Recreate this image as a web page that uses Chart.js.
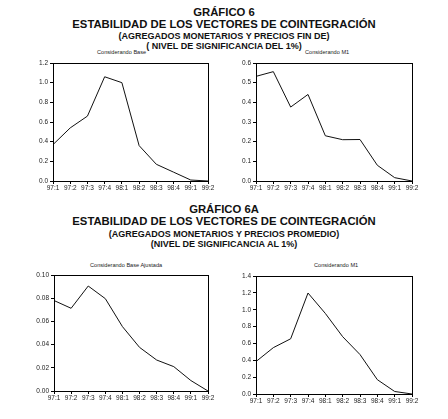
<!DOCTYPE html>
<html>
<head>
<meta charset="utf-8">
<script src="https://cdn.jsdelivr.net/npm/chart.js@4.4.0/dist/chart.umd.min.js"></script>
<style>
  body { margin: 0; background: #fff; width: 448px; height: 419px; overflow: hidden; }
  #page { position: relative; width: 448px; height: 419px; font-family: "Liberation Sans", Arial, sans-serif; color: #111; }
  .t { position: absolute; left: 0; width: 448px; text-align: center; font-weight: bold; white-space: nowrap; line-height: 1; }
  .s { position: absolute; white-space: nowrap; font-size: 5.6px; line-height: 1; color: #222; }
  canvas { position: absolute; }
</style>
</head>
<body>
<div id="page">
  <div class="t" style="top:7px;font-size:11.3px">GRÁFICO 6</div>
  <div class="t" style="top:19px;font-size:11.3px">ESTABILIDAD DE LOS VECTORES DE COINTEGRACIÓN</div>
  <div class="t" style="top:32px;font-size:9px">(AGREGADOS MONETARIOS Y PRECIOS FIN DE)</div>
  <div class="t" style="top:42px;font-size:9px">( NIVEL DE SIGNIFICANCIA DEL 1%)</div>
  <div class="s" style="left:97px;top:50px">Considerando Base</div>
  <div class="s" style="left:305px;top:50px">Considerando M1</div>

  <div class="t" style="top:204px;font-size:11.3px">GRÁFICO 6A</div>
  <div class="t" style="top:216px;font-size:11.3px">ESTABILIDAD DE LOS VECTORES DE COINTEGRACIÓN</div>
  <div class="t" style="top:230px;font-size:9px">(AGREGADOS MONETARIOS Y PRECIOS PROMEDIO)</div>
  <div class="t" style="top:240px;font-size:9px">(NIVEL DE SIGNIFICANCIA AL 1%)</div>
  <div class="s" style="left:90px;top:263px">Considerando Base Ajustada</div>
  <div class="s" style="left:314px;top:263px">Considerando M1</div>

  <canvas id="c1" width="224" height="145" style="left:0;top:50px"></canvas>
  <canvas id="c2" width="224" height="145" style="left:224px;top:50px"></canvas>
  <canvas id="c3" width="224" height="159" style="left:0;top:260px"></canvas>
  <canvas id="c4" width="224" height="159" style="left:224px;top:260px"></canvas>
</div>
<script>
const quarters = ['97:1', '97:2', '97:3', '97:4', '98:1', '98:2', '98:3', '98:4', '99:1', '99:2'];

// Gráfico 6 - precios fin de periodo
const baseFinDe = [0.37, 0.54, 0.66, 1.06, 1.00, 0.36, 0.17, 0.09, 0.01, 0.00];
const m1FinDe = [0.532, 0.556, 0.376, 0.44, 0.23, 0.21, 0.211, 0.08, 0.017, 0.00];

// Gráfico 6A - precios promedio
const baseAjustada = [0.078, 0.0713, 0.0905, 0.0796, 0.0555, 0.0376, 0.0267, 0.021, 0.009, 0.00];
const m1Promedio = [0.385, 0.55, 0.655, 1.198, 0.956, 0.68, 0.468, 0.17, 0.03, 0.00];

// y axis ranges
const yMax = [1.2, 0.6, 0.10, 1.4];
const yStep = [0.2, 0.1, 0.02, 0.2];
const yDecimals = [1, 1, 2, 1];

const tickFont = { family: "'Liberation Sans', Arial, sans-serif", size: 6.5 };

// draws the closed box round the plot area
const boxPlugin = {
    id: 'box',
    afterDraw(chart) {
        const a = chart.chartArea;
        const ctx = chart.ctx;
        ctx.save();
        ctx.strokeStyle = '#000';
        ctx.lineWidth = 1;
        ctx.strokeRect(Math.round(a.left) + 0.5, Math.round(a.top) + 0.5,
            Math.round(a.right - a.left), Math.round(a.bottom - a.top));
        ctx.restore();
    }
};

function makeChart(id, values, idx, pad, yWidth) {
    const ctx = document.getElementById(id).getContext('2d');
    return new Chart(ctx, {
        type: 'line',
        data: {
            labels: quarters,
            datasets: [{
                data: values,
                borderColor: '#111',
                borderWidth: 1,
                pointRadius: 0,
                tension: 0,
                fill: false
            }]
        },
        options: {
            responsive: false,
            animation: false,
            layout: { padding: pad },
            plugins: { legend: { display: false }, tooltip: { enabled: false } },
            scales: {
                x: {
                    offset: false,
                    grid: { drawOnChartArea: false, tickLength: 3, color: '#000' },
                    border: { color: '#000' },
                    ticks: { font: tickFont, color: '#222', maxRotation: 0, autoSkip: false, padding: 0 },
                    afterFit(axis) { axis.height = 14; }
                },
                y: {
                    min: 0,
                    max: yMax[idx],
                    grid: { drawOnChartArea: false, tickLength: 3, color: '#000' },
                    border: { color: '#000' },
                    ticks: {
                        font: tickFont, color: '#222', padding: 2,
                        stepSize: yStep[idx],
                        callback: v => v.toFixed(yDecimals[idx])
                    },
                    afterFit(axis) { axis.width = yWidth; }
                }
            }
        },
        plugins: [boxPlugin]
    });
}

makeChart('c1', baseFinDe, 0, { left: 0, right: 16, top: 13, bottom: 0 }, 53);
makeChart('c2', m1FinDe, 1, { left: 0, right: 36, top: 13, bottom: 0 }, 32);
makeChart('c3', baseAjustada, 2, { left: 0, right: 16, top: 15, bottom: 14 }, 54);
makeChart('c4', m1Promedio, 3, { left: 0, right: 36, top: 16, bottom: 11 }, 32);
</script>
</body>
</html>
